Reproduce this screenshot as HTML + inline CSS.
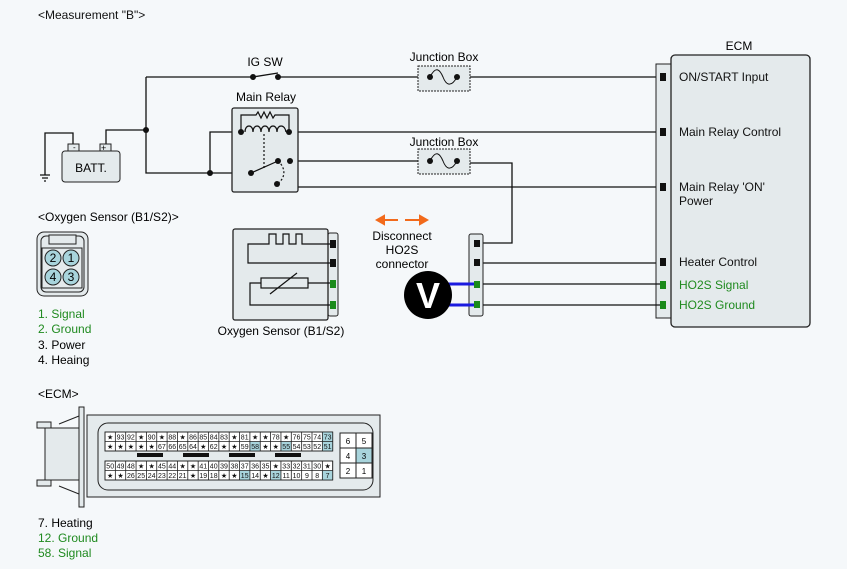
<!DOCTYPE html>
<html><head><meta charset="utf-8"><style>
html,body{margin:0;padding:0;background:#f5f8fa;}
svg{display:block;font-family:"Liberation Sans",sans-serif;}
</style></head><body>
<svg width="847" height="569" viewBox="0 0 847 569" xmlns="http://www.w3.org/2000/svg">
<rect width="847" height="569" fill="#f5f8fa"/>
<text x="38" y="19" font-size="12" fill="#111">&lt;Measurement "B"&gt;</text>

<g stroke="#111" stroke-width="1.3" fill="none">
<path d="M146 77 H253 M278 77 H430 M457 77 H660"/>
<path d="M253 77 L278 73"/>
<path d="M146 77 V173 H251"/>
<path d="M106 145 V130 H146"/>
<path d="M73 145 V133 H45 V175"/>
<path d="M40 175 H50 M42 178 H48 M44 181 H46"/>
<path d="M210 173 V132 H241"/>
<path d="M289 132 H660"/>
<path d="M290 161 H430 M457 163 H512 V243 H477"/>
<path d="M290 161 V187 H660"/>
<path d="M483 263 H660"/>
</g>

<rect x="62" y="151" width="58" height="31" rx="3" fill="#e4eaec" stroke="#222"/>
<rect x="68" y="144" width="11" height="7" fill="#e4eaec" stroke="#222"/>
<rect x="100" y="144" width="11" height="7" fill="#e4eaec" stroke="#222"/>
<text x="73" y="150" font-size="8">-</text>
<text x="101" y="151" font-size="9">+</text>
<text x="91" y="172" font-size="12" text-anchor="middle">BATT.</text>
<circle cx="146" cy="130" r="3" fill="#111"/>
<circle cx="210" cy="173" r="3" fill="#111"/>

<text x="265" y="66" font-size="12" text-anchor="middle">IG SW</text>
<circle cx="253" cy="77" r="3" fill="#111"/>
<circle cx="278" cy="77" r="3" fill="#111"/>

<text x="444" y="61" font-size="12" text-anchor="middle">Junction Box</text>
<rect x="418" y="66" width="52" height="25" fill="#e4eaec" stroke="#222" stroke-dasharray="2,1"/>
<circle cx="430" cy="77" r="3" fill="#111"/><circle cx="457" cy="77" r="3" fill="#111"/>
<path d="M430 77 C436 65 440 70 443 77 C446 85 451 88 457 77" stroke="#111" fill="none"/>
<text x="444" y="146" font-size="12" text-anchor="middle">Junction Box</text>
<rect x="418" y="149" width="52" height="25" fill="#e4eaec" stroke="#222" stroke-dasharray="2,1"/>
<circle cx="430" cy="161" r="3" fill="#111"/><circle cx="457" cy="161" r="3" fill="#111"/>
<path d="M430 161 C436 149 440 154 443 161 C446 169 451 172 457 161" stroke="#111" fill="none"/>

<text x="266" y="101" font-size="12" text-anchor="middle">Main Relay</text>
<rect x="232" y="108" width="66" height="84" rx="2" fill="#e4eaec" stroke="#222" stroke-width="1.3"/>
<g stroke="#111" fill="none" stroke-width="1.2">
<path d="M241 132 V115 H256 L258 112 L261 118 L264 112 L267 118 L270 112 L273 118 L275 115 H289 V132"/>
<path d="M245 132 c0 -8 8 -8 8 0 c0 -8 8 -8 8 0 c0 -8 8 -8 8 0 c0 -8 8 -8 8 0 c0 -8 8 -8 9 0"/>
<path d="M264 134 V168" stroke-dasharray="2,2"/>
<path d="M251 173 L278 161"/>
<path d="M278 161 C286 168 286 178 277 184" stroke-dasharray="2,2"/>
</g>
<circle cx="241" cy="132" r="3" fill="#111"/><circle cx="289" cy="132" r="3" fill="#111"/>
<circle cx="251" cy="173" r="3" fill="#111"/><circle cx="278" cy="161" r="3" fill="#111"/>
<circle cx="290" cy="161" r="3" fill="#111"/><circle cx="277" cy="184" r="3" fill="#111"/>

<text x="739" y="50" font-size="12" text-anchor="middle">ECM</text>
<rect x="656" y="64" width="16" height="254" fill="#e4eaec" stroke="#222"/>
<rect x="671" y="55" width="139" height="272" rx="4" fill="#e4eaec" stroke="#222" stroke-width="1.3"/>
<g fill="#111"><rect x="660" y="73" width="6" height="8"/><rect x="660" y="128" width="6" height="8"/><rect x="660" y="183" width="6" height="8"/><rect x="660" y="258" width="6" height="8"/></g>
<g fill="#1a8a1a"><rect x="660" y="281" width="6" height="8"/><rect x="660" y="301" width="6" height="8"/></g>
<g font-size="12" fill="#111">
<text x="679" y="81">ON/START Input</text>
<text x="679" y="136">Main Relay Control</text>
<text x="679" y="191">Main Relay 'ON'</text>
<text x="679" y="205">Power</text>
<text x="679" y="266">Heater Control</text>
<text x="679" y="289" fill="#1f8a1f">HO2S  Signal</text>
<text x="679" y="309" fill="#1f8a1f">HO2S  Ground</text>
</g>

<g stroke="#f26a1b" stroke-width="2" fill="#f26a1b">
<path d="M382 220 H398 M405 220 H422"/>
<path d="M377 220 L384 216 L384 224 Z"/><path d="M427 220 L420 216 L420 224 Z"/>
</g>
<g font-size="12" text-anchor="middle"><text x="402" y="240">Disconnect</text><text x="402" y="254">HO2S</text><text x="402" y="268">connector</text></g>

<rect x="469" y="234" width="14" height="82" rx="2" fill="#e4eaec" stroke="#222"/>
<g fill="#111"><rect x="474" y="240" width="6" height="7"/><rect x="474" y="259" width="6" height="7"/></g>
<g fill="#1a8a1a"><rect x="474" y="281" width="6" height="7"/><rect x="474" y="301" width="6" height="7"/></g>
<g stroke="#111" stroke-width="1.3"><path d="M483 284 H660 M483 305 H660"/></g>
<g stroke="#1a1ae0" stroke-width="3"><path d="M445 284 H474 M445 305 H474"/></g>
<circle cx="428" cy="295" r="24" fill="#000"/>
<text x="428" y="308" font-size="36" font-weight="bold" fill="#fff" text-anchor="middle">V</text>

<rect x="328" y="233" width="10" height="83" rx="2" fill="#e4eaec" stroke="#222"/>
<rect x="233" y="229" width="95" height="91" rx="2" fill="#e4eaec" stroke="#222" stroke-width="1.3"/>
<g fill="#111"><rect x="330" y="240" width="6" height="8"/><rect x="330" y="259" width="6" height="8"/></g>
<g fill="#1a8a1a"><rect x="330" y="280" width="6" height="8"/><rect x="330" y="301" width="6" height="8"/></g>
<g stroke="#111" fill="none" stroke-width="1.2">
<path d="M330 244 H302 V234 H296 V244 H289 V234 H283 V244 H276 V234 H269 V244 H248 V263 H330"/>
<rect x="261" y="278" width="47" height="10"/>
<path d="M308 283 H330 M261 283 H250 V305 H330 M270 294 L297 273"/>
</g>
<text x="281" y="335" font-size="12" text-anchor="middle">Oxygen Sensor (B1/S2)</text>

<text x="38" y="221" font-size="12">&lt;Oxygen Sensor (B1/S2)&gt;</text>
<rect x="37" y="232" width="51" height="64" rx="7" fill="#e4eaec" stroke="#222"/>
<rect x="41" y="236" width="43" height="56" rx="5" fill="none" stroke="#222"/>
<rect x="49" y="235" width="27" height="9" fill="#e4eaec" stroke="#222"/>
<rect x="42" y="248" width="40" height="40" fill="#e4eaec" stroke="#222"/>
<g fill="#a8d4dc" stroke="#222"><circle cx="53" cy="258" r="8"/><circle cx="71" cy="258" r="8"/><circle cx="53" cy="277" r="8"/><circle cx="71" cy="277" r="8"/></g>
<g font-size="12" text-anchor="middle"><text x="53" y="262">2</text><text x="71" y="262">1</text><text x="53" y="281">4</text><text x="71" y="281">3</text></g>
<g font-size="12"><text x="38" y="318" fill="#1f8a1f">1. Signal</text><text x="38" y="333" fill="#1f8a1f">2. Ground</text><text x="38" y="349">3. Power</text><text x="38" y="364">4. Heaing</text></g>

<text x="38" y="398" font-size="12">&lt;ECM&gt;</text>
<g stroke="#222" fill="#e4eaec">
<rect x="37" y="422" width="14" height="6"/><rect x="37" y="480" width="14" height="6"/>
<rect x="45" y="428" width="36" height="52"/>
<path d="M59 424 L79 416 M59 486 L79 494" fill="none"/>
<rect x="79" y="407" width="5" height="100"/>
<rect x="87" y="415" width="293" height="82"/>
<rect x="98" y="423" width="275" height="67" rx="10" fill="none"/>
</g>

<!-- pin grid -->
<g stroke="#222" stroke-width="0.8">
<rect x="105" y="432" width="227.7" height="19" fill="#fff"/>
<rect x="105" y="461" width="227.7" height="19" fill="#fff"/>
</g>
<g fill="#a8d4dc">
<rect x="322.35" y="432" width="10.35" height="9.5"/>
<rect x="249.9" y="441.5" width="10.35" height="9.5"/>
<rect x="280.95" y="441.5" width="10.35" height="9.5"/>
<rect x="322.35" y="441.5" width="10.35" height="9.5"/>
<rect x="239.55" y="470.5" width="10.35" height="9.5"/>
<rect x="270.6" y="470.5" width="10.35" height="9.5"/>
<rect x="322.35" y="470.5" width="10.35" height="9.5"/>
</g>
<g stroke="#222" stroke-width="0.8" fill="none">
<rect x="105" y="432" width="227.7" height="19"/>
<rect x="105" y="461" width="227.7" height="19"/>
<path d="M105 441.5 H332.7 M105 470.5 H332.7"/>
<path d="M115.35 432V451M125.7 432V451M136.05 432V451M146.4 432V451M156.75 432V451M167.1 432V451M177.45 432V451M187.8 432V451M198.15 432V451M208.5 432V451M218.85 432V451M229.2 432V451M239.55 432V451M249.9 432V451M260.25 432V451M270.6 432V451M280.95 432V451M291.3 432V451M301.65 432V451M312 432V451M322.35 432V451"/>
<path d="M115.35 461V480M125.7 461V480M136.05 461V480M146.4 461V480M156.75 461V480M167.1 461V480M177.45 461V480M187.8 461V480M198.15 461V480M208.5 461V480M218.85 461V480M229.2 461V480M239.55 461V480M249.9 461V480M260.25 461V480M270.6 461V480M280.95 461V480M291.3 461V480M301.65 461V480M312 461V480M322.35 461V480"/>
</g>
<g font-size="7" text-anchor="middle" fill="#111">
<text x="110.2" y="439.5">★</text><text x="120.5" y="439.5">93</text><text x="130.9" y="439.5">92</text><text x="141.2" y="439.5">★</text><text x="151.6" y="439.5">90</text><text x="161.9" y="439.5">★</text><text x="172.3" y="439.5">88</text><text x="182.6" y="439.5">★</text><text x="193" y="439.5">86</text><text x="203.3" y="439.5">85</text><text x="213.7" y="439.5">84</text><text x="224" y="439.5">83</text><text x="234.4" y="439.5">★</text><text x="244.7" y="439.5">81</text><text x="255.1" y="439.5">★</text><text x="265.5" y="439.5">★</text><text x="275.8" y="439.5">78</text><text x="286.2" y="439.5">★</text><text x="296.5" y="439.5">76</text><text x="306.9" y="439.5">75</text><text x="317.2" y="439.5">74</text><text x="327.6" y="439.5">73</text>
<text x="110.2" y="449">★</text><text x="120.5" y="449">★</text><text x="130.9" y="449">★</text><text x="141.2" y="449">★</text><text x="151.6" y="449">★</text><text x="161.9" y="449">67</text><text x="172.3" y="449">66</text><text x="182.6" y="449">65</text><text x="193" y="449">64</text><text x="203.3" y="449">★</text><text x="213.7" y="449">62</text><text x="224" y="449">★</text><text x="234.4" y="449">★</text><text x="244.7" y="449">59</text><text x="255.1" y="449">58</text><text x="265.5" y="449">★</text><text x="275.8" y="449">★</text><text x="286.2" y="449">55</text><text x="296.5" y="449">54</text><text x="306.9" y="449">53</text><text x="317.2" y="449">52</text><text x="327.6" y="449">51</text>
<text x="110.2" y="468.5">50</text><text x="120.5" y="468.5">49</text><text x="130.9" y="468.5">48</text><text x="141.2" y="468.5">★</text><text x="151.6" y="468.5">★</text><text x="161.9" y="468.5">45</text><text x="172.3" y="468.5">44</text><text x="182.6" y="468.5">★</text><text x="193" y="468.5">★</text><text x="203.3" y="468.5">41</text><text x="213.7" y="468.5">40</text><text x="224" y="468.5">39</text><text x="234.4" y="468.5">38</text><text x="244.7" y="468.5">37</text><text x="255.1" y="468.5">36</text><text x="265.5" y="468.5">35</text><text x="275.8" y="468.5">★</text><text x="286.2" y="468.5">33</text><text x="296.5" y="468.5">32</text><text x="306.9" y="468.5">31</text><text x="317.2" y="468.5">30</text><text x="327.6" y="468.5">★</text>
<text x="110.2" y="478">★</text><text x="120.5" y="478">★</text><text x="130.9" y="478">26</text><text x="141.2" y="478">25</text><text x="151.6" y="478">24</text><text x="161.9" y="478">23</text><text x="172.3" y="478">22</text><text x="182.6" y="478">21</text><text x="193" y="478">★</text><text x="203.3" y="478">19</text><text x="213.7" y="478">18</text><text x="224" y="478">★</text><text x="234.4" y="478">★</text><text x="244.7" y="478">15</text><text x="255.1" y="478">14</text><text x="265.5" y="478">★</text><text x="275.8" y="478">12</text><text x="286.2" y="478">11</text><text x="296.5" y="478">10</text><text x="306.9" y="478">9</text><text x="317.2" y="478">8</text><text x="327.6" y="478">7</text>
</g>
<g fill="#111"><rect x="137" y="453" width="26" height="4"/><rect x="183" y="453" width="26" height="4"/><rect x="229" y="453" width="26" height="4"/><rect x="275" y="453" width="26" height="4"/></g>
<g stroke="#222">
<rect x="340" y="433" width="16" height="15" fill="#fff"/><rect x="356" y="433" width="16" height="15" fill="#fff"/>
<rect x="340" y="448" width="16" height="15" fill="#fff"/><rect x="356" y="448" width="16" height="15" fill="#a8d4dc"/>
<rect x="340" y="463" width="16" height="15" fill="#fff"/><rect x="356" y="463" width="16" height="15" fill="#fff"/>
</g>
<g font-size="8" text-anchor="middle"><text x="348" y="444">6</text><text x="364" y="444">5</text><text x="348" y="459">4</text><text x="364" y="459">3</text><text x="348" y="474">2</text><text x="364" y="474">1</text></g>
<g font-size="12"><text x="38" y="527">7. Heating</text><text x="38" y="542" fill="#1f8a1f">12. Ground</text><text x="38" y="557" fill="#1f8a1f">58. Signal</text></g>
</svg>
</body></html>
